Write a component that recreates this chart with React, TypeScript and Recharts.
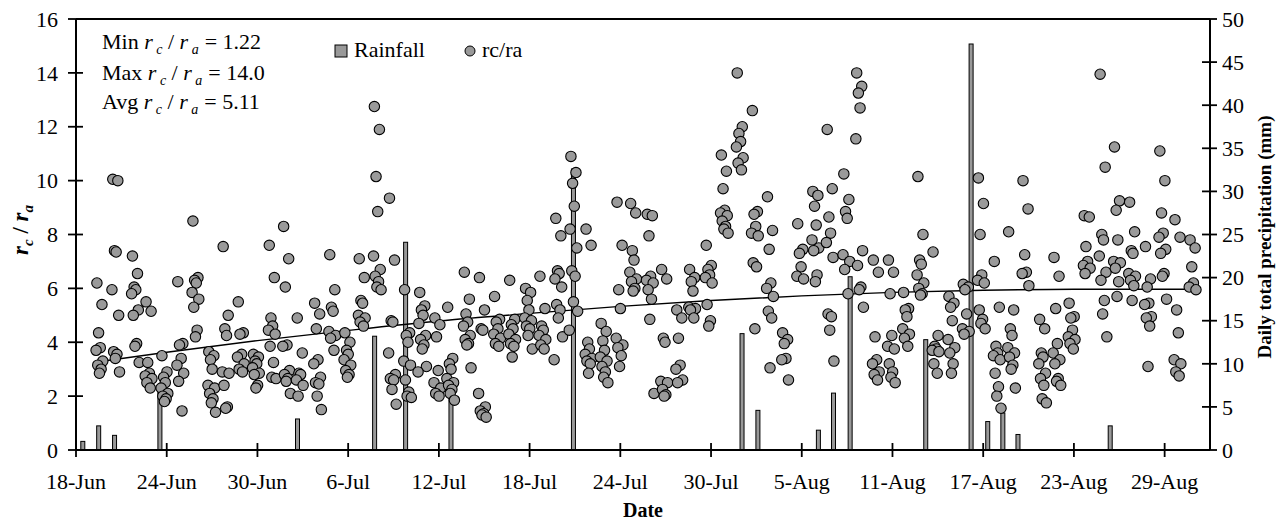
import React from 'react';
import { ComposedChart, XAxis, YAxis, Bar, Scatter, Line, ReferenceLine, Label } from 'recharts';

const FONT = '"Liberation Serif", "DejaVu Serif", serif';

// x axis: days since 18-Jun
const tickDays = [0, 6, 12, 18, 24, 30, 36, 42, 48, 54, 60, 66, 72];
const tickLabels = ['18-Jun', '24-Jun', '30-Jun', '6-Jul', '12-Jul', '18-Jul', '24-Jul', '30-Jul', '5-Aug', '11-Aug', '17-Aug', '23-Aug', '29-Aug'];
const leftTicks = [0, 2, 4, 6, 8, 10, 12, 14, 16];
const rightTicks = [0, 5, 10, 15, 20, 25, 30, 35, 40, 45, 50];

// daily rainfall (mm)
const rainDays = [0.45, 1.5, 2.55, 5.55, 14.65, 19.75, 21.8, 24.8, 32.9, 44.05, 45.1, 49.1, 50.1, 51.2, 56.2, 59.2, 60.3, 61.3, 62.3, 68.4];
const rainMm = [1.0, 2.8, 1.7, 7.1, 3.6, 13.2, 24.1, 8.0, 32.6, 13.5, 4.6, 2.3, 6.6, 20.1, 12.8, 47.1, 3.3, 4.3, 1.8, 2.8];

// rc/ra readings, grouped by day
const rcraDays = [1.55, 2.6, 3.9, 4.8, 5.85, 6.9, 7.9, 8.95, 9.9, 10.9, 11.9, 12.95, 13.9, 14.8, 15.95, 16.95, 17.95, 18.9, 19.9, 20.9, 21.9, 22.9, 23.9, 24.75, 25.85, 26.85, 27.85, 28.85, 29.9, 30.85, 31.9, 32.9, 33.9, 34.9, 35.95, 36.85, 37.95, 38.9, 39.9, 40.75, 41.85, 42.85, 43.9, 44.9, 45.9, 46.9, 47.9, 48.9, 49.85, 50.95, 51.8, 52.9, 53.9, 54.9, 55.85, 56.85, 57.9, 58.85, 59.85, 60.9, 61.85, 62.8, 63.9, 64.85, 65.85, 66.85, 67.9, 68.85, 69.85, 70.9, 71.85, 72.85, 73.85];
const rcraValues: number[][] = [
  [6.2, 5.4, 4.35, 3.8, 3.7, 3.3, 3.15, 3.0, 2.85],
  [10.05, 10.0, 7.4, 7.35, 5.95, 5.0, 3.65, 3.55, 3.4, 2.9],
  [7.2, 6.55, 6.05, 5.95, 5.8, 5.2, 5.0, 3.95, 3.85, 3.25],
  [5.5, 5.15, 3.25, 2.85, 2.75, 2.65, 2.5, 2.3],
  [3.5, 2.9, 2.7, 2.5, 2.3, 2.1, 2.0, 1.9, 1.8],
  [6.25, 3.95, 3.9, 3.4, 3.15, 2.85, 2.55, 1.45],
  [8.5, 6.4, 6.3, 6.2, 5.85, 5.6, 5.3, 4.45, 4.2],
  [3.65, 3.5, 3.35, 3.0, 2.4, 2.3, 2.1, 1.9, 1.75, 1.4],
  [7.55, 5.0, 4.5, 4.25, 2.9, 2.85, 2.4, 1.6, 1.55],
  [5.5, 4.35, 4.3, 3.55, 3.45, 3.2, 3.0, 2.9],
  [3.55, 3.45, 3.3, 3.2, 3.05, 2.85, 2.8, 2.4, 2.3],
  [7.6, 6.4, 4.9, 4.6, 4.45, 4.3, 3.85, 3.25, 2.7, 2.65],
  [8.3, 7.1, 6.05, 3.9, 3.85, 2.95, 2.8, 2.65, 2.55, 2.1],
  [4.9, 3.6, 2.85, 2.8, 2.6, 2.4, 2.0],
  [5.45, 5.05, 4.5, 3.35, 3.2, 2.7, 2.5, 2.45, 2.0, 1.5],
  [7.25, 5.95, 5.3, 5.15, 4.4, 4.25, 4.15, 3.7],
  [4.35, 4.0, 3.7, 3.55, 3.35, 3.15, 2.95, 2.8, 2.7],
  [7.1, 6.4, 5.55, 5.45, 5.0, 4.9, 4.75, 4.6],
  [12.75, 11.9, 10.15, 8.85, 7.2, 6.7, 6.45, 6.25, 6.05, 5.95],
  [9.35, 7.05, 4.8, 4.75, 3.6, 2.8, 2.65, 2.6, 2.25, 1.7],
  [5.95, 4.35, 4.25, 4.0, 3.3, 3.15, 2.6, 2.15, 2.0, 1.95],
  [5.85, 5.35, 5.2, 5.0, 4.7, 4.25, 4.1, 3.9, 3.75, 3.1, 2.9],
  [4.9, 4.65, 4.2, 2.95, 2.5, 2.3, 2.1, 2.0],
  [5.3, 3.4, 3.2, 3.0, 2.65, 2.5, 2.4, 2.25, 2.1, 1.85],
  [6.6, 5.6, 5.05, 4.75, 4.6, 4.25, 4.1, 3.95, 3.9, 3.05],
  [6.4, 5.2, 4.5, 4.45, 2.1, 1.6, 1.45, 1.35, 1.3, 1.22],
  [5.7, 4.85, 4.75, 4.5, 4.3, 4.15, 3.95, 3.85],
  [6.3, 4.85, 4.65, 4.5, 4.3, 4.1, 3.95, 3.85, 3.45],
  [6.0, 5.85, 5.55, 5.2, 4.9, 4.8, 4.6, 4.5, 4.25, 3.75],
  [6.45, 5.25, 4.6, 4.45, 4.25, 4.1, 3.9, 3.75],
  [8.6, 7.95, 6.65, 6.55, 6.35, 6.05, 5.4, 5.2, 4.9, 4.2, 3.35],
  [10.9, 10.3, 9.9, 9.05, 8.2, 7.5, 6.65, 6.45, 5.5, 5.15, 4.45],
  [8.2, 7.6, 4.0, 3.75, 3.55, 3.4, 3.3, 3.2, 2.85],
  [4.7, 4.4, 4.05, 3.7, 3.45, 3.3, 3.1, 2.9, 2.7, 2.5],
  [9.2, 7.6, 5.95, 5.25, 4.15, 3.9, 3.8, 3.5, 3.1],
  [9.15, 8.8, 7.4, 7.05, 6.6, 6.35, 6.25, 6.0, 5.9],
  [8.75, 8.7, 7.95, 6.45, 6.3, 6.2, 5.95, 5.6, 4.85, 2.1],
  [6.7, 6.35, 4.15, 4.0, 2.55, 2.5, 2.25, 2.05, 2.0],
  [5.2, 4.9, 4.15, 3.15, 3.0, 2.6, 2.5],
  [6.7, 6.4, 6.25, 5.9, 5.3, 5.25, 5.2, 4.9],
  [7.6, 6.85, 6.7, 6.5, 6.4, 6.2, 5.4, 4.8, 4.6],
  [10.95, 10.35, 9.7, 8.9, 8.8, 8.7, 8.5, 8.3, 8.2, 8.05],
  [14.0, 12.0, 11.75, 11.45, 11.25, 10.85, 10.65, 10.4],
  [12.6, 8.85, 8.75, 8.3, 8.05, 7.95, 6.95, 6.8, 4.5],
  [9.4, 8.15, 7.45, 6.2, 6.0, 5.7, 5.15, 4.9, 3.05],
  [4.35, 4.1, 3.95, 3.4, 3.35, 2.6],
  [8.4, 7.45, 7.3, 6.8, 6.45, 6.35],
  [9.6, 9.45, 9.05, 8.35, 7.8, 7.5, 7.4, 6.5, 6.25],
  [11.9, 9.7, 8.65, 8.05, 7.7, 7.15, 5.05, 4.95, 4.45, 3.3],
  [10.25, 9.3, 8.85, 8.6, 7.25, 7.0, 6.7, 5.8],
  [14.0, 13.5, 13.25, 12.7, 11.55, 7.4, 6.85, 6.05, 5.95, 5.3],
  [7.05, 6.6, 4.2, 3.35, 3.2, 2.9, 2.8, 2.6],
  [7.05, 6.6, 5.8, 4.25, 3.85, 3.75, 3.2, 2.9, 2.7, 2.5],
  [5.85, 5.25, 5.2, 4.95, 4.5, 4.3, 4.15, 3.85],
  [10.15, 8.0, 7.05, 6.9, 6.5, 6.2, 6.0, 5.8, 5.75],
  [7.35, 4.25, 3.85, 3.75, 3.7, 3.65, 3.2, 2.85],
  [5.7, 5.45, 5.3, 4.8, 4.1, 3.8, 3.6, 3.2, 2.85],
  [6.15, 6.05, 5.95, 5.05, 4.5, 4.4, 4.3],
  [10.1, 9.15, 8.0, 6.5, 6.3, 6.2, 5.2, 4.85, 4.7, 4.5],
  [7.0, 5.3, 3.85, 3.6, 3.5, 3.35, 2.85, 2.35, 2.0, 1.55],
  [8.1, 5.2, 4.5, 4.25, 3.8, 3.6, 3.45, 3.15, 3.0, 2.3],
  [10.0, 8.95, 7.25, 6.6, 6.55, 6.1],
  [4.85, 4.5, 3.6, 3.45, 3.2, 2.85, 2.65, 2.4, 1.9, 1.75],
  [7.15, 6.45, 5.25, 3.95, 3.6, 3.35, 3.2, 2.65, 2.55, 2.4],
  [5.45, 4.95, 4.9, 4.45, 4.2, 4.1, 3.95, 3.75],
  [8.7, 8.65, 7.55, 7.0, 6.85, 6.75, 6.55],
  [13.95, 10.5, 8.0, 7.8, 7.2, 6.6, 6.3, 5.55, 5.05, 4.2],
  [11.25, 9.25, 8.9, 7.8, 7.0, 6.95, 6.75, 6.25, 5.7],
  [9.2, 8.1, 7.4, 7.3, 6.55, 6.45, 6.3, 6.1, 5.55],
  [7.55, 6.35, 6.05, 5.45, 5.4, 4.95, 4.9, 4.6, 3.1],
  [11.1, 10.0, 8.8, 8.05, 7.9, 7.45, 7.3, 6.55, 6.45, 5.6],
  [8.55, 7.9, 5.2, 4.35, 3.35, 3.2, 2.9, 2.75],
  [7.8, 7.5, 6.8, 6.2, 6.05, 5.95],
];
// hour of day of successive readings within a day
const readingHours = [9, 15, 11, 13, 8, 16, 10, 14, 12, 17, 7];

// trend curve
const trendDays = [1.8, 6, 12, 18, 24, 30, 36, 42, 48, 54, 60, 66, 74];
const trendValues = [3.3, 3.63, 4.06, 4.44, 4.79, 5.07, 5.33, 5.55, 5.72, 5.85, 5.93, 5.97, 5.97];

const rainData = rainDays.map((day, i) => ({ day, mm: rainMm[i] }));
const pointData = rcraDays.flatMap((day, i) =>
  rcraValues[i].map((v, j) => ({ day: day + (readingHours[j % readingHours.length] - 12) / 18, v }))
);
const trendData = trendDays.map((day, i) => ({ day, v: trendValues[i] }));

const FS = 22;

const LeftTick = (props: any) => {
  const { x, y, payload } = props;
  const ax = x + 18;
  return (
    <g>
      <line x1={ax - 8} x2={ax + 7} y1={y} y2={y} stroke="#000" strokeWidth={1.8} />
      <text x={x} y={y} dy="0.35em" textAnchor="end" fontFamily={FONT} fontSize={FS} fill="#000">{payload.value}</text>
    </g>
  );
};

const RightTick = (props: any) => {
  const { x, y, payload } = props;
  const ax = x - 12;
  return (
    <g>
      <line x1={ax - 8} x2={ax + 7} y1={y} y2={y} stroke="#000" strokeWidth={1.8} />
      <text x={x} y={y} dy="0.35em" textAnchor="start" fontFamily={FONT} fontSize={FS} fill="#000">{payload.value}</text>
    </g>
  );
};

const BottomTick = (props: any) => {
  const { x, y, payload } = props;
  const ay = y - 24;
  const idx = tickDays.indexOf(payload.value);
  return (
    <g>
      <line x1={x} x2={x} y1={ay - 7} y2={ay + 7} stroke="#000" strokeWidth={1.8} />
      <text x={x} y={y} dy="0.7em" textAnchor="middle" fontFamily={FONT} fontSize={FS} fill="#000">{idx >= 0 ? tickLabels[idx] : ''}</text>
    </g>
  );
};

const Ratio = () => (
  <>
    <tspan fontStyle="italic">r</tspan>
    <tspan fontStyle="italic" fontSize={14} dy={5}>{' c'}</tspan>
    <tspan dy={-5}>{' / '}</tspan>
    <tspan fontStyle="italic">r</tspan>
    <tspan fontStyle="italic" fontSize={14} dy={5}>{' a'}</tspan>
    <tspan dy={-5} dx={6}>{'= '}</tspan>
  </>
);

const Decorations = () => (
  <g fontFamily={FONT} fill="#000">
    <text x={102} y={49} fontSize={FS}>{'Min '}<Ratio />{'1.22'}</text>
    <text x={102} y={80} fontSize={FS}>{'Max '}<Ratio />{'14.0'}</text>
    <text x={102} y={109} fontSize={FS}>{'Avg '}<Ratio />{'5.11'}</text>
    <rect x={335} y={45} width={12} height={12} fill="#999" stroke="#000" strokeWidth={1} />
    <text x={354} y={57} fontSize={FS}>Rainfall</text>
    <circle cx={470} cy={51} r={5} fill="#999" stroke="#000" strokeWidth={1} />
    <text x={482} y={57} fontSize={FS}>rc/ra</text>
  </g>
);

const LeftTitle = () => (
  <text transform="translate(28,230) rotate(-90)" textAnchor="middle" fontFamily={FONT} fontSize={23} fontWeight="bold" fill="#000">
    <tspan fontStyle="italic">r</tspan>
    <tspan fontStyle="italic" fontSize={15} dy={5}>c</tspan>
    <tspan dy={-5}>{' / '}</tspan>
    <tspan fontStyle="italic">r</tspan>
    <tspan fontStyle="italic" fontSize={15} dy={5}>a</tspan>
  </text>
);

const RightTitle = () => (
  <text transform="translate(1271,237) rotate(-90)" textAnchor="middle" fontFamily={FONT} fontSize={19} fontWeight="bold" fill="#000">
    Daily total precipitation (mm)
  </text>
);

const BottomTitle = () => (
  <text x={643} y={517} textAnchor="middle" fontFamily={FONT} fontSize={20} fontWeight="bold" fill="#000">Date</text>
);

const Dot = (p: any) => <circle cx={p.cx} cy={p.cy} r={5.2} fill="#9a9a9a" stroke="#000" strokeWidth={1.1} />;

const RainBar = (p: any) => {
  const cx = p.x + p.width / 2;
  return <rect x={cx - 2} y={p.y} width={4} height={p.height} fill="#999" stroke="#000" strokeWidth={1} />;
};

export default function App() {
  return (
    <div style={{ position: 'absolute', left: 0, top: 0, width: 1288, height: 523, background: '#fff' }}>
      <ComposedChart width={1288} height={523} data={rainData} margin={{ top: 19, right: 18, bottom: 33, left: 16 }}>
        <XAxis
          dataKey="day"
          type="number"
          domain={[0, 75]}
          ticks={tickDays}
          interval={0}
          height={40}
          tickSize={7}
          tickMargin={17}
          tickLine={false}
          tick={<BottomTick />}
          axisLine={{ stroke: '#000', strokeWidth: 2 }}
        >
          <Label content={<BottomTitle />} />
        </XAxis>
        <YAxis
          yAxisId="left"
          domain={[0, 16]}
          ticks={leftTicks}
          interval={0}
          width={60}
          tickSize={8}
          tickMargin={10}
          tickLine={false}
          tick={<LeftTick />}
          axisLine={{ stroke: '#000', strokeWidth: 2 }}
        >
          <Label content={<LeftTitle />} />
        </YAxis>
        <YAxis
          yAxisId="right"
          orientation="right"
          domain={[0, 50]}
          ticks={rightTicks}
          interval={0}
          width={60}
          tickSize={7}
          tickMargin={5}
          tickLine={false}
          tick={<RightTick />}
          axisLine={{ stroke: '#000', strokeWidth: 2 }}
        >
          <Label content={<RightTitle />} />
        </YAxis>
        <ReferenceLine yAxisId="left" y={16} stroke="#000" strokeWidth={2} label={<Decorations />} />
        <Bar yAxisId="right" dataKey="mm" barSize={4} shape={<RainBar />} isAnimationActive={false} />
        <Scatter yAxisId="left" data={pointData} dataKey="v" shape={<Dot />} isAnimationActive={false} />
        <Line yAxisId="left" data={trendData} dataKey="v" type="monotone" dot={false} stroke="#000" strokeWidth={1.4} isAnimationActive={false} />
      </ComposedChart>
    </div>
  );
}
